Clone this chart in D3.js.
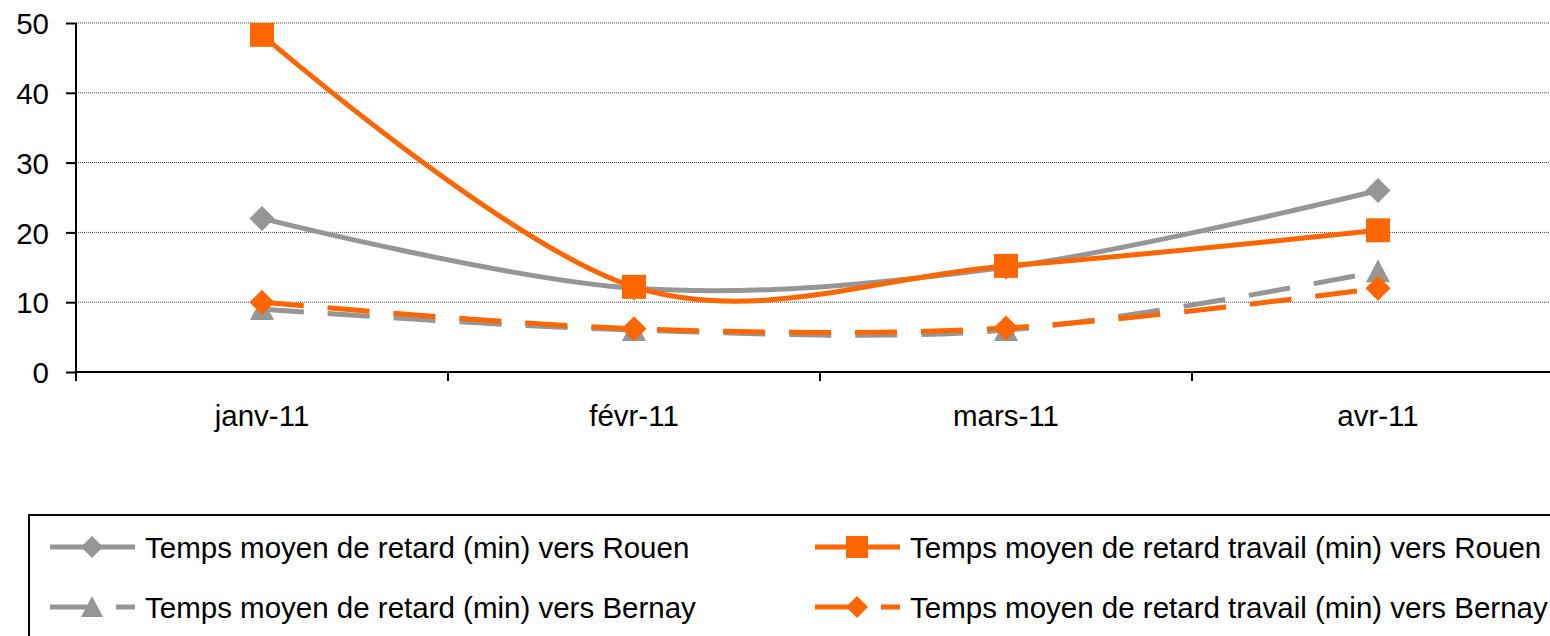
<!DOCTYPE html>
<html><head><meta charset="utf-8">
<script src="https://cdn.jsdelivr.net/npm/d3@7"></script>
<style>body{margin:0;background:#fff}svg{display:block}text{font-family:"Liberation Sans",Arial,sans-serif;fill:#000}</style>
</head><body><svg id="c" width="1550" height="636"></svg>
<script>
const categories = ["janv-11","févr-11","mars-11","avr-11"];
const yTicks = [0,10,20,30,40,50];
const rouen = [22, 12, 15, 26];
const travailRouen = [48.3, 12.2, 15.2, 20.3];
const bernay = [9, 6, 6, 14.4];
const travailBernay = [10, 6.2, 6.3, 12];
const seriesNames = [
  "Temps moyen de retard (min) vers Rouen",
  "Temps moyen de retard travail (min) vers Rouen",
  "Temps moyen de retard (min) vers Bernay",
  "Temps moyen de retard travail (min) vers Bernay"
];
const GRAY = "#969696", ORANGE = "#ff6600";
const series = [
  {name: seriesNames[0], values: rouen, color: GRAY, marker: "diamond", dash: null},
  {name: seriesNames[1], values: travailRouen, color: ORANGE, marker: "square", dash: null},
  {name: seriesNames[2], values: bernay, color: GRAY, marker: "triangle", dash: "42,24"},
  {name: seriesNames[3], values: travailBernay, color: ORANGE, marker: "diamond", dash: "42,24"}
];
const svg = d3.select("#c");
const x = d3.scaleBand().domain(categories).range([76, 76 + 4*372]).paddingInner(0).paddingOuter(0);
const y = d3.scaleLinear().domain([0,50]).range([372, 23]);
const FS = 29.5;

// gridlines
svg.append("g").selectAll("line").data(yTicks.filter(d=>d>0)).join("line")
  .attr("x1", 76).attr("x2", 1550).attr("y1", d=>y(d)).attr("y2", d=>y(d))
  .attr("stroke", "#444").attr("stroke-width", 1).attr("stroke-dasharray", "1,1");

// y axis
const ya = svg.append("g").attr("transform", "translate(76,0)")
  .call(d3.axisLeft(y).tickValues(yTicks).tickSize(10).tickPadding(17).tickFormat(d3.format("d")));
ya.select(".domain").attr("d", "M0,23V378").attr("stroke", "#000").attr("stroke-width", 2);
ya.selectAll(".tick line").attr("stroke", "#000").attr("stroke-width", 2);
ya.selectAll(".tick text").attr("font-size", FS).attr("font-family", "Liberation Sans, Arial").attr("fill", "#000").attr("dy", "0.36em");

// x axis
const xa = svg.append("g").attr("transform", "translate(0,372)")
  .call(d3.axisBottom(x).tickSize(0).tickPadding(33));
xa.select(".domain").attr("d", "M76,0H1550").attr("stroke", "#000").attr("stroke-width", 2);
xa.selectAll(".tick text").attr("font-size", FS).attr("font-family", "Liberation Sans, Arial").attr("fill", "#000");
// category boundary ticks
const bounds = categories.map(c => x(c)).concat([x(categories[3]) + x.bandwidth()]).filter(v => v <= 1550);
svg.append("g").selectAll("line").data(bounds).join("line")
  .attr("x1", d=>d).attr("x2", d=>d).attr("y1", 372).attr("y2", 381)
  .attr("stroke", "#000").attr("stroke-width", 2);

const cx = c => x(c) + x.bandwidth()/2;
const line = d3.line().x((d,i)=>cx(categories[i])).y(d=>y(d)).curve(d3.curveCardinal.tension(0));

function markerPath(type, s) {
  if (type === "diamond") return `M0,${-s}L${s},0L0,${s}L${-s},0Z`;
  if (type === "square") return `M${-s},${-s}H${s}V${s}H${-s}Z`;
  if (type === "triangle") return `M0,${-s}L${s},${s*0.9}L${-s},${s*0.9}Z`;
}
const msize = {diamond: 12.5, square: 12, triangle: 12};

const drawOrder = [2, 0, 3, 1];
drawOrder.forEach(k => {
  const s = series[k];
  const g = svg.append("g");
  g.append("path").attr("d", line(s.values)).attr("fill", "none")
    .attr("stroke", s.color).attr("stroke-width", 5)
    .attr("stroke-dasharray", s.dash);
  g.selectAll("path.m").data(s.values).join("path").attr("class","m")
    .attr("transform", (d,i)=>`translate(${cx(categories[i])},${y(d)})`)
    .attr("d", markerPath(s.marker, msize[s.marker])).attr("fill", s.color);
});

// legend
svg.append("rect").attr("x", 29).attr("y", 515).attr("width", 1560).attr("height", 140)
  .attr("fill", "none").attr("stroke", "#000").attr("stroke-width", 2);
const legPos = [[50, 547], [815, 547], [50, 607], [815, 607]];
series.forEach((s, i) => {
  const [lx, ly] = legPos[i];
  const g = svg.append("g").attr("transform", `translate(${lx},${ly})`);
  if (s.dash) {
    g.append("line").attr("x1", 0).attr("x2", 41).attr("y1", 0).attr("y2", 0).attr("stroke", s.color).attr("stroke-width", 5);
    g.append("line").attr("x1", 66).attr("x2", 85).attr("y1", 0).attr("y2", 0).attr("stroke", s.color).attr("stroke-width", 5);
  } else {
    g.append("line").attr("x1", 0).attr("x2", 85).attr("y1", 0).attr("y2", 0).attr("stroke", s.color).attr("stroke-width", 5);
  }
  g.append("path").attr("transform", `translate(42,0)`).attr("d", markerPath(s.marker, 11)).attr("fill", s.color);
  g.append("text").attr("x", 95).attr("y", 0).attr("dy", "0.36em").attr("font-size", FS).text(s.name);
});
</script></body></html>
